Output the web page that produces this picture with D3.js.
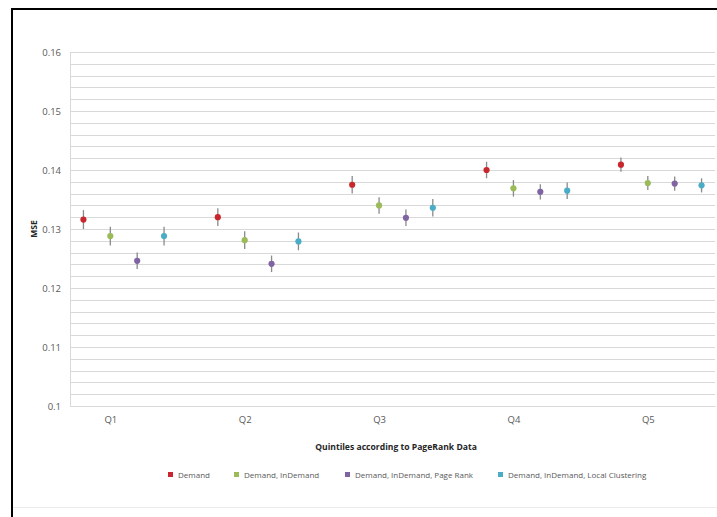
<!DOCTYPE html>
<html>
<head>
<meta charset="utf-8">
<script src="https://cdn.jsdelivr.net/npm/d3@7/dist/d3.min.js"></script>
<style>
  html, body { margin: 0; padding: 0; background: #fff; }
  svg { display: block; }
</style>
</head>
<body>
<script>
const categories = ["Q1", "Q2", "Q3", "Q4", "Q5"];
const seriesNames = ["Demand", "Demand, InDemand", "Demand, InDemand, Page Rank", "Demand, InDemand, Local Clustering"];
const demand          = [0.1316, 0.1320, 0.1375, 0.1400, 0.1409];
const demandInDemand  = [0.1288, 0.1281, 0.1340, 0.1369, 0.1378];
const pageRank        = [0.1246, 0.1241, 0.1319, 0.1363, 0.1377];
const localClustering = [0.1288, 0.1279, 0.1336, 0.1365, 0.1374];
const demandErr          = [0.0016, 0.0015, 0.0015, 0.0014, 0.0012];
const demandInDemandErr  = [0.0016, 0.0015, 0.0014, 0.0014, 0.0012];
const pageRankErr        = [0.0014, 0.0014, 0.0014, 0.0013, 0.0012];
const localClusteringErr = [0.0016, 0.0015, 0.0015, 0.0014, 0.0012];
const yTickValues = [0.10, 0.11, 0.12, 0.13, 0.14, 0.15, 0.16];
const yTickLabels = ["0.1", "0.11", "0.12", "0.13", "0.14", "0.15", "0.16"];

const colors = ["#c8282d", "#9bbb59", "#8064a2", "#4bacc6"];
const offsets = [-0.2, 0, 0.2, 0.4];
const values = [demand, demandInDemand, pageRank, localClustering];
const errors = [demandErr, demandInDemandErr, pageRankErr, localClusteringErr];

const W = 717, H = 517;
const svg = d3.select("body").append("svg").attr("width", W).attr("height", H);
const font = "'Open Sans', 'Liberation Sans', sans-serif";

// chart border
svg.append("line").attr("x1", 12).attr("x2", W).attr("y1", 9).attr("y2", 9).attr("stroke", "#000").attr("stroke-width", 2);
svg.append("line").attr("x1", 12).attr("x2", 12).attr("y1", 8).attr("y2", H).attr("stroke", "#000").attr("stroke-width", 2);
svg.append("line").attr("x1", 13).attr("x2", W).attr("y1", 507.5).attr("y2", 507.5).attr("stroke", "#ececec").attr("stroke-width", 1);

const x = d3.scaleLinear().domain([0.7, 5.5]).range([70, 715]);
const y = d3.scaleLinear().domain([0.10, 0.16]).range([406, 52]);

// gridlines (minor every 0.002)
const minor = d3.range(0, 31).map(i => 0.10 + i * 0.002);
svg.append("g").selectAll("line").data(minor).join("line")
  .attr("x1", 70).attr("x2", 715)
  .attr("y1", d => Math.round(y(d)) + 0.5).attr("y2", d => Math.round(y(d)) + 0.5)
  .attr("stroke", "#d9d9d9").attr("stroke-width", 1);

// y axis
const yAxis = d3.axisLeft(y).tickValues(yTickValues).tickSize(0).tickPadding(9)
  .tickFormat((d, i) => yTickLabels[i]);
const gy = svg.append("g").attr("transform", "translate(70,0)").call(yAxis);
gy.select(".domain").attr("stroke", "#d9d9d9");
gy.selectAll("text").attr("font-family", font).attr("font-size", 9.5).attr("fill", "#595959");

// x axis
const xAxis = d3.axisBottom(x).tickValues([1, 2, 3, 4, 5]).tickSize(0).tickPadding(10)
  .tickFormat((d, i) => categories[i]);
const gx = svg.append("g").attr("transform", "translate(0,406)").call(xAxis);
gx.select(".domain").attr("stroke", "#d9d9d9");
gx.selectAll("text").attr("font-family", font).attr("font-size", 9.5).attr("fill", "#595959");

// axis titles
svg.append("text").attr("x", 396).attr("y", 450).attr("text-anchor", "middle")
  .attr("font-family", font).attr("font-size", 8.6).attr("font-weight", "bold").attr("fill", "#262626")
  .text("Quintiles according to PageRank Data");
svg.append("text").attr("transform", "translate(37,229) rotate(-90)").attr("text-anchor", "middle")
  .attr("font-family", font).attr("font-size", 8.6).attr("font-weight", "bold").attr("fill", "#262626")
  .text("MSE");

// series
values.forEach((vals, s) => {
  const g = svg.append("g");
  const pts = vals.map((v, i) => ({ xv: i + 1 + offsets[s], v, e: errors[s][i] }));
  g.selectAll("line").data(pts).join("line")
    .attr("x1", d => x(d.xv)).attr("x2", d => x(d.xv))
    .attr("y1", d => y(d.v - d.e)).attr("y2", d => y(d.v + d.e))
    .attr("stroke", "#8a8a8a").attr("stroke-width", 1.3);
  g.selectAll("circle").data(pts).join("circle")
    .attr("cx", d => x(d.xv)).attr("cy", d => y(d.v)).attr("r", 3.1)
    .attr("fill", colors[s]);
});

// legend
const legendX = [168, 234, 345, 498];
const lg = svg.append("g");
seriesNames.forEach((name, s) => {
  lg.append("rect").attr("x", legendX[s]).attr("y", 472).attr("width", 5).attr("height", 5).attr("fill", colors[s]);
  lg.append("text").attr("x", legendX[s] + 10).attr("y", 477.5)
    .attr("font-family", font).attr("font-size", 8).attr("fill", "#595959").text(name);
});
</script>
</body>
</html>
